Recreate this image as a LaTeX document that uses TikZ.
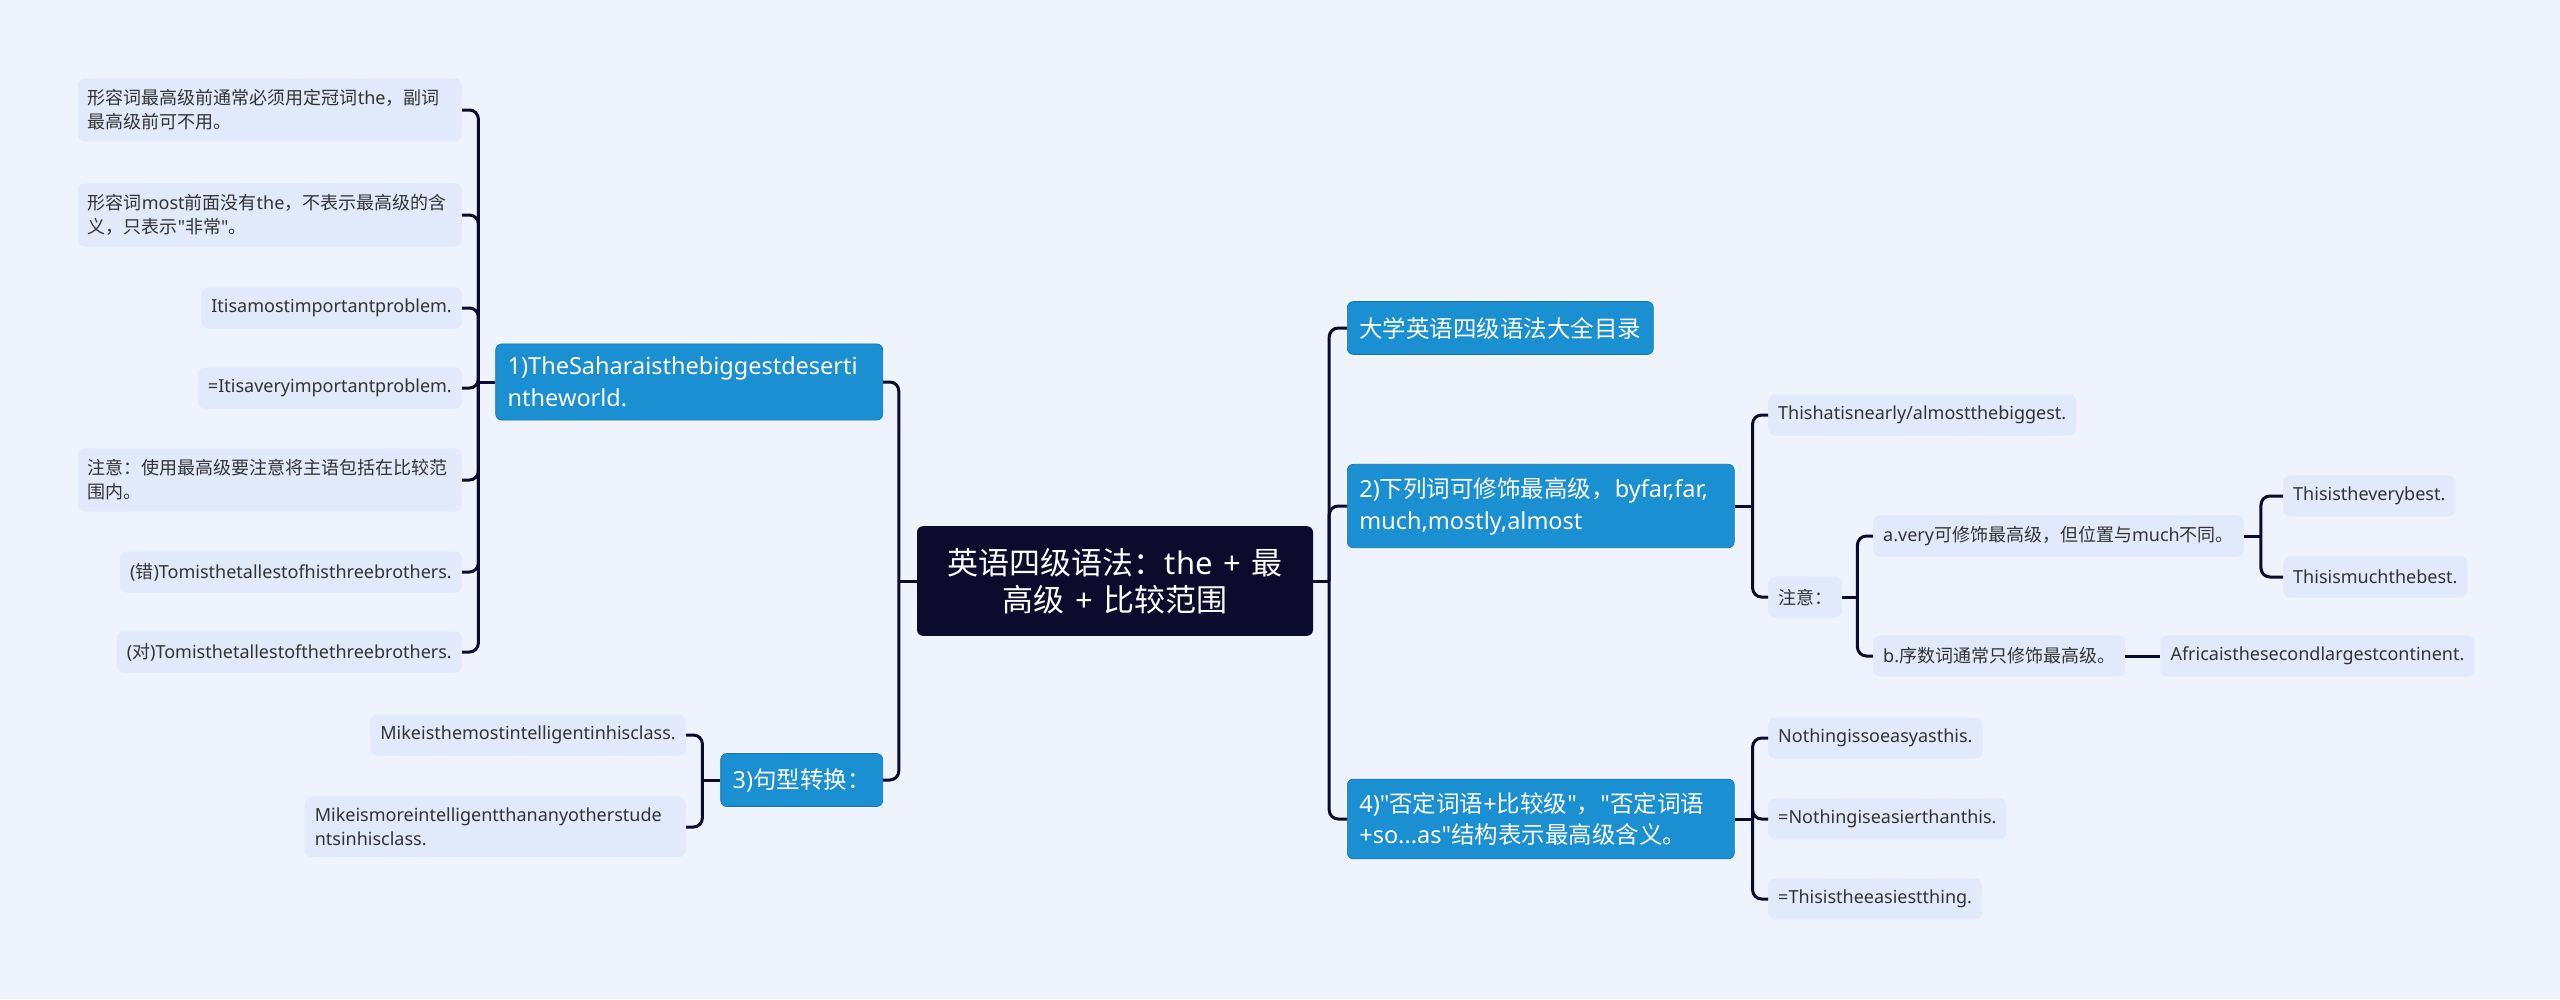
\documentclass[tikz,border=0pt]{standalone}
\usepackage{fontspec}
\setmainfont{Noto Sans}
\newfontfamily\cjk{Noto Sans CJK SC}
\usetikzlibrary{positioning}
\definecolor{bgcol}{HTML}{EEF3FE}
\definecolor{leafcol}{HTML}{E1EAFB}
\definecolor{maincol}{HTML}{1A8FD2}
\definecolor{rootcol}{HTML}{0C0B2E}
\definecolor{txtcol}{HTML}{333333}
\newcommand{\zh}[1]{{\cjk #1}}
\newcommand{\qt}{\textquotedbl}

\begin{document}
\begin{tikzpicture}[x=1pt, y=-1pt,
  link/.style={draw=rootcol, line width=3pt, rounded corners=9pt},
  rootnd/.style={fill=rootcol, text=white, rounded corners=6pt, font=\fontsize{31}{37}\selectfont,
    align=center, text width=340pt, inner xsep=28pt, inner ysep=22pt},
  mainnd/.style={fill=maincol, draw=maincol!80!black, line width=0.6pt, text=white, rounded corners=6pt,
    font=\fontsize{23.5}{32}\selectfont, inner xsep=12pt, inner ysep=13pt, minimum height=53pt},
  mainwrap/.style={mainnd, text width=363pt, align=left},
  leaf/.style={fill=leafcol, text=txtcol, rounded corners=7pt, font=\fontsize{18}{24}\selectfont,
    inner xsep=10pt, inner ysep=11pt, minimum height=41pt},
  leafwrap/.style={leaf, text width=364pt, align=left}]
  \fill[bgcol] (0,0) rectangle (2560,999);
  \useasboundingbox (0,0) rectangle (2560,999);

  % centre
  \node[rootnd] (root) at (1115,581) {\zh{英语四级语法：}the + \zh{最}\\\zh{高级} + \zh{比较范围}};

  % left half
  \node[mainwrap, anchor=east] (s1) at (883,382) {1)TheSaharaisthebiggestdeserti\\ntheworld.};
  \node[mainnd, anchor=east] (s3) at (883,780) {3)\zh{句型转换：}};

  \node[leafwrap, anchor=east] (l1) at (462,110) {\zh{形容词最高级前通常必须用定冠词}the\zh{，副词}\\\zh{最高级前可不用。}};
  \node[leafwrap, anchor=east] (l2) at (462,215) {\zh{形容词}most\zh{前面没有}the\zh{，不表示最高级的含}\\\zh{义，只表示}\qt\zh{非常}\qt\zh{。}};
  \node[leaf, anchor=east] (l3) at (462,308) {Itisamostimportantproblem.};
  \node[leaf, anchor=east] (l4) at (462,388) {=Itisaveryimportantproblem.};
  \node[leafwrap, anchor=east] (l5) at (462,480) {\zh{注意：使用最高级要注意将主语包括在比较范}\\\zh{围内。}};
  \node[leaf, anchor=east] (l6) at (462,572) {(\zh{错})Tomisthetallestofhisthreebrothers.};
  \node[leaf, anchor=east] (l7) at (462,652) {(\zh{对})Tomisthetallestofthethreebrothers.};
  \node[leaf, anchor=east] (m1) at (686,735) {Mikeisthemostintelligentinhisclass.};
  \node[leafwrap, anchor=east, text width=361pt] (m2) at (686,827) {Mikeismoreintelligentthananyotherstude\\ntsinhisclass.};

  % right half
  \node[mainnd, anchor=west] (s0) at (1347,328) {\zh{大学英语四级语法大全目录}};
  \node[mainwrap, anchor=west] (s2) at (1347,506) {2)\zh{下列词可修饰最高级，}byfar,far,\\much,mostly,almost};
  \node[mainwrap, anchor=west] (s4) at (1347,819) {4)\qt\zh{否定词语}+\zh{比较级}\qt\zh{，}\qt\zh{否定词语}\\+so...as\qt\zh{结构表示最高级含义。}};

  \node[leaf, anchor=west] (t1) at (1768,415) {Thishatisnearly/almostthebiggest.};
  \node[leaf, anchor=west] (note) at (1768,597) {\zh{注意：}};
  \node[leaf, anchor=west] (na) at (1873,536) {a.very\zh{可修饰最高级，但位置与}much\zh{不同。}};
  \node[leaf, anchor=west] (nb) at (1873,656) {b.\zh{序数词通常只修饰最高级。}};
  \node[leaf, anchor=west] (na1) at (2283,496) {Thisistheverybest.};
  \node[leaf, anchor=west] (na2) at (2283,577) {Thisismuchthebest.};
  \node[leaf, right=35pt of nb] (nb1) {Africaisthesecondlargestcontinent.};
  \node[leaf, anchor=west] (e1) at (1768,738) {Nothingissoeasyasthis.};
  \node[leaf, anchor=west] (e2) at (1768,819) {=Nothingiseasierthanthis.};
  \node[leaf, anchor=west] (e3) at (1768,899) {=Thisistheeasiestthing.};

  % connectors
  \draw[link] (root.west) -- ++(-18,0);
  \foreach \k in {s1,s3} \draw[link] (root.west) ++(-18,0) |- (\k.east);
  \draw[link] (root.east) -- ++(16,0);
  \foreach \k in {s0,s2,s4} \draw[link] (root.east) ++(16,0) |- (\k.west);
  \draw[link] (s1.west) -- ++(-17,0);
  \foreach \k in {l1,l2,l3,l4,l5,l6,l7} \draw[link] (s1.west) ++(-17,0) |- (\k.east);
  \draw[link] (s3.west) -- ++(-18,0);
  \foreach \k in {m1,m2} \draw[link] (s3.west) ++(-18,0) |- (\k.east);
  \draw[link] (s2.east) -- ++(18,0);
  \foreach \k in {t1,note} \draw[link] (s2.east) ++(18,0) |- (\k.west);
  \draw[link] (note.east) -- ++(15,0);
  \foreach \k in {na,nb} \draw[link] (note.east) ++(15,0) |- (\k.west);
  \draw[link] (na.east) -- ++(17,0);
  \foreach \k in {na1,na2} \draw[link] (na.east) ++(17,0) |- (\k.west);
  \draw[link] (nb.east) -- (nb1.west);
  \draw[link] (s4.east) -- ++(18,0);
  \foreach \k in {e1,e2,e3} \draw[link] (s4.east) ++(18,0) |- (\k.west);
\end{tikzpicture}
\end{document}
